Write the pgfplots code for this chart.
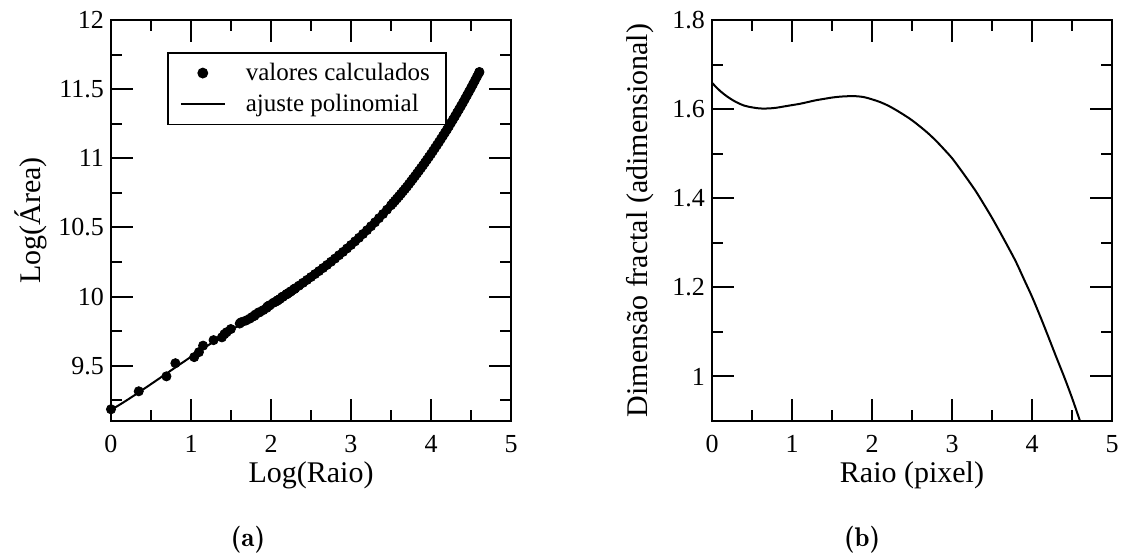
\documentclass[border=0pt]{standalone}
\usepackage{fontspec}
\setmainfont{Liberation Serif}
\usepackage{pgfplots}
\pgfplotsset{compat=1.18}

\pgfplotsset{
  panel/.style={
    scale only axis, width=200pt, height=200.5pt,
    anchor=south west,
    xmin=0, xmax=5, xtick={0,1,2,3,4,5},
    minor xtick={0.5,1.5,2.5,3.5,4.5},
    tick align=inside,
    major tick length=11pt, minor tick length=5.5pt,
    axis line style={line width=1pt},
    every tick/.style={black, line width=1pt},
    /pgf/number format/assume math mode=true,
    tick label style={font=\fontsize{13}{15}\selectfont},
    xticklabel style={yshift=-3.5pt},
    label style={font=\fontsize{15}{18}\selectfont},
    xlabel style={at={(axis description cs:0.5,-0.135)}, anchor=center},
  },
  dotlegend/.style={legend image code/.code={\draw[##1] plot coordinates {(11pt,0pt)};}},
  linelegend/.style={legend image code/.code={\draw[##1] (0pt,0pt) -- (22pt,0pt);}},
}

\begin{document}
\begin{tikzpicture}
\useasboundingbox (0,0) rectangle (561pt,277pt);

\begin{axis}[panel, name=A,
  at={(55.5pt,66.5pt)},
  ymin=9.1, ymax=12,
  ytick={9.5,10,10.5,11,11.5,12},
  minor ytick={9.25,9.75,10.25,10.75,11.25,11.75},
  xlabel={Log(Raio)}, ylabel={Log(Área)},
  ylabel style={at={(axis description cs:-0.20,0.5)}, anchor=center},
  legend style={at={(axis description cs:0.14,0.92)}, anchor=north west,
    draw=black, line width=0.8pt, inner xsep=6pt, inner ysep=3pt,
    font=\fontsize{12.5}{14}\selectfont, row sep=1.5pt,
    legend cell align=left,
    /tikz/every odd column/.append style={column sep=8pt}},
]
\addplot[only marks, mark=*, mark size=2.3pt, black, dotlegend]
coordinates {
(0,9.185) (0.347,9.315) (0.693,9.423) (0.805,9.518) (1.040,9.562) (1.099,9.598)
(1.151,9.645) (1.282,9.685) (1.386,9.705) (1.417,9.728) (1.445,9.742) (1.498,9.765)
(1.609,9.805) (1.629,9.815) (1.684,9.826) (1.733,9.840) (1.763,9.852) (1.792,9.860)
(1.805,9.870) (1.844,9.885) (1.857,9.886) (1.903,9.902) (1.946,9.918) (1.956,9.928)
(1.976,9.935) (1.985,9.937) (2.030,9.955) (2.055,9.962) (2.079,9.970) (2.087,9.975)
(2.110,9.982) (2.138,9.996) (2.145,9.999) (2.152,10.000) (2.191,10.015) (2.197,10.018)
(2.203,10.020) (2.221,10.027) (2.244,10.036) (2.250,10.038) (2.287,10.053) (2.292,10.055)
(2.303,10.060) (2.35,10.0789) (2.40,10.0993) (2.45,10.1203) (2.50,10.1412) (2.55,10.1627)
(2.60,10.1842) (2.65,10.2064) (2.70,10.2286) (2.75,10.2517) (2.80,10.2748) (2.85,10.2989)
(2.90,10.3229) (2.95,10.3479) (3.00,10.3729) (3.05,10.3990) (3.10,10.4251) (3.15,10.4525)
(3.20,10.4798) (3.25,10.5084) (3.30,10.5370) (3.35,10.5670) (3.40,10.5970) (3.45,10.6285)
(3.50,10.6599) (3.525,10.6764) (3.55,10.6929) (3.575,10.7094) (3.60,10.7259) (3.625,10.7432)
(3.65,10.7606) (3.675,10.7779) (3.70,10.7952) (3.725,10.8142) (3.75,10.8331) (3.775,10.8521)
(3.80,10.871) (3.825,10.8905) (3.85,10.910) (3.875,10.9295) (3.90,10.949) (3.925,10.9695)
(3.95,10.990) (3.975,11.0105) (4.00,11.031) (4.025,11.0528) (4.05,11.0745) (4.075,11.0963)
(4.10,11.118) (4.125,11.1405) (4.15,11.163) (4.175,11.1855) (4.20,11.208) (4.225,11.232)
(4.25,11.256) (4.275,11.280) (4.30,11.304) (4.325,11.3288) (4.35,11.3535) (4.375,11.3783)
(4.40,11.403) (4.425,11.4293) (4.45,11.4555) (4.475,11.4818) (4.50,11.508) (4.525,11.5355)
(4.55,11.563) (4.575,11.5905) (4.60,11.618) (4.605,11.624)
};
\addlegendentry{valores calculados}
\addplot[black, line width=1pt, smooth, linelegend]
coordinates {
(0,9.180) (0.1,9.2149) (0.2,9.2512) (0.3,9.2889) (0.4,9.3276) (0.5,9.3668)
(0.6,9.4063) (0.7,9.4460) (0.8,9.4856) (0.9,9.5250) (1.0,9.5642) (1.1,9.6032)
(1.2,9.6418) (1.3,9.6800) (1.4,9.7179) (1.5,9.7555) (1.6,9.7928) (1.7,9.8300)
(1.8,9.8671) (1.9,9.9043) (2.0,9.9419) (2.1,9.9800) (2.2,10.0188) (2.3,10.0585)
(2.4,10.0993) (2.5,10.1412) (2.6,10.1842) (2.7,10.2286) (2.8,10.2748) (2.9,10.3229)
(3.0,10.3729) (3.1,10.4251) (3.2,10.4798) (3.3,10.5370) (3.4,10.5970) (3.5,10.6599)
(3.6,10.7259) (3.7,10.7952) (3.8,10.871) (3.9,10.949) (4.0,11.031) (4.1,11.118)
(4.2,11.208) (4.3,11.304) (4.4,11.403) (4.5,11.508) (4.6,11.618) (4.605,11.624)
};
\addlegendentry{ajuste polinomial}
\end{axis}
\node[font=\fontfamily{lmr}\fontsize{13.5}{16}\selectfont\bfseries] at ([xshift=-31.5pt,yshift=-59.5pt]A.south) {(a)};

\begin{axis}[panel, name=B,
  at={(356pt,66.5pt)},
  ymin=0.9, ymax=1.8,
  ytick={1,1.2,1.4,1.6,1.8},
  minor ytick={1.1,1.3,1.5,1.7},
  xlabel={Raio (pixel)}, ylabel={Dimensão fractal (adimensional)},
  ylabel style={at={(axis description cs:-0.18,0.5)}, anchor=center},
]
\addplot[black, line width=1pt, smooth] coordinates {
(0,1.659) (0.1,1.641) (0.2,1.627) (0.3,1.616) (0.4,1.608) (0.5,1.604)
(0.6,1.6015) (0.7,1.6015) (0.8,1.603) (0.9,1.606) (1.0,1.609) (1.1,1.612)
(1.2,1.616) (1.3,1.620) (1.4,1.623) (1.5,1.626) (1.6,1.628) (1.7,1.629)
(1.8,1.629) (1.9,1.627) (2.0,1.622) (2.1,1.616) (2.2,1.608) (2.3,1.598)
(2.4,1.587) (2.5,1.575) (2.6,1.561) (2.7,1.546) (2.8,1.529) (2.9,1.510)
(3.0,1.490) (3.1,1.466) (3.2,1.441) (3.3,1.415) (3.4,1.386) (3.5,1.356)
(3.6,1.324) (3.7,1.291) (3.8,1.257) (3.9,1.218) (4.0,1.179) (4.1,1.136)
(4.2,1.091) (4.3,1.045) (4.4,1.000) (4.5,0.952) (4.6,0.900) (4.605,0.897)
};
\end{axis}
\node[font=\fontfamily{lmr}\fontsize{13.5}{16}\selectfont\bfseries] at ([xshift=-25pt,yshift=-59.5pt]B.south) {(b)};
\end{tikzpicture}
\end{document}
